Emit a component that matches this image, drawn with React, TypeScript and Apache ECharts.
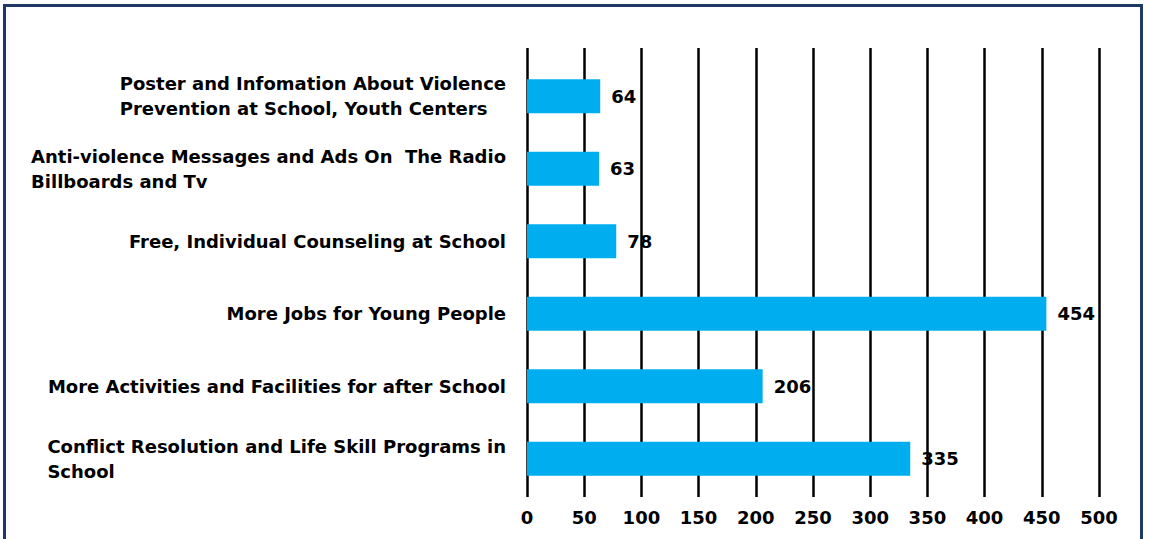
import React, { useEffect, useRef } from "react";
import * as echarts from "echarts";

const categories = [
  "Poster and Infomation About Violence\nPrevention at School, Youth Centers",
  "Anti-violence Messages and Ads On  The Radio\nBillboards and Tv",
  "Free, Individual Counseling at School",
  "More Jobs for Young People",
  "More Activities and Facilities for after School",
  "Conflict Resolution and Life Skill Programs in\nSchool",
];
const values = [64, 63, 78, 454, 206, 335];
const xMin = 0;
const xMax = 500;
const xInterval = 50;

const FONT = "'DejaVu Sans', 'Liberation Sans', Arial, sans-serif";

export default function App() {
  const ref = useRef<HTMLDivElement>(null);
  useEffect(() => {
    if (!ref.current) return;
    const chart = echarts.init(ref.current, null, { renderer: "svg" });
    chart.setOption({
      animation: false,
      backgroundColor: "#ffffff",
      textStyle: { fontFamily: FONT },
      graphic: [
        {
          type: "rect",
          shape: { x: 4.5, y: 5.5, width: 1137, height: 620 },
          style: { fill: "none", stroke: "#1f3864", lineWidth: 3 },
          z: 100,
        },
      ],
      grid: [
        { left: 527, right: 50, top: 48, bottom: 42, containLabel: false },
        { left: 527, right: 50, top: 60, bottom: 44, containLabel: false },
      ],
      xAxis: [
        {
          type: "value",
          gridIndex: 0,
          min: xMin,
          max: xMax,
          interval: xInterval,
          axisLine: { show: false },
          axisTick: { show: false },
          axisLabel: { show: false },
          splitLine: { show: true, lineStyle: { color: "#000000", width: 2.5 } },
        },
        {
          type: "value",
          gridIndex: 1,
          min: xMin,
          max: xMax,
          interval: xInterval,
          axisLine: { show: false },
          axisTick: { show: false },
          splitLine: { show: false },
          axisLabel: {
            show: true,
            color: "#000000",
            fontSize: 18,
            fontWeight: "bold",
            fontFamily: FONT,
            margin: 13,
          },
        },
      ],
      yAxis: [
        {
          type: "category",
          gridIndex: 0,
          data: categories,
          show: false,
        },
        {
          type: "category",
          gridIndex: 1,
          data: categories,
          inverse: true,
          axisLine: { show: false },
          axisTick: { show: false },
          splitLine: { show: false },
          axisLabel: {
            show: true,
            margin: 21,
            align: "right",
            color: "#000000",
            fontSize: 18,
            fontWeight: "bold",
            fontFamily: FONT,
            lineHeight: 25,
            formatter: (v: string) =>
              v
                .split("\n")
                .map((s) => `{l|${s}}`)
                .join("\n"),
            rich: {
              l: {
                align: "left",
                color: "#000000",
                fontSize: 18,
                fontWeight: "bold",
                fontFamily: FONT,
                lineHeight: 25,
              },
            },
          },
        },
      ],
      series: [
        {
          type: "bar",
          xAxisIndex: 1,
          yAxisIndex: 1,
          data: values,
          barWidth: 34,
          itemStyle: { color: "#00AEEF" },
          z: 5,
          label: {
            show: true,
            position: "right",
            distance: 11,
            color: "#000000",
            fontSize: 18,
            fontWeight: "bold",
            fontFamily: FONT,
          },
        },
      ],
    });
    return () => chart.dispose();
  }, []);
  return (
    <div
      ref={ref}
      style={{ position: "absolute", left: 0, top: 0, width: 1149, height: 539 }}
    />
  );
}
